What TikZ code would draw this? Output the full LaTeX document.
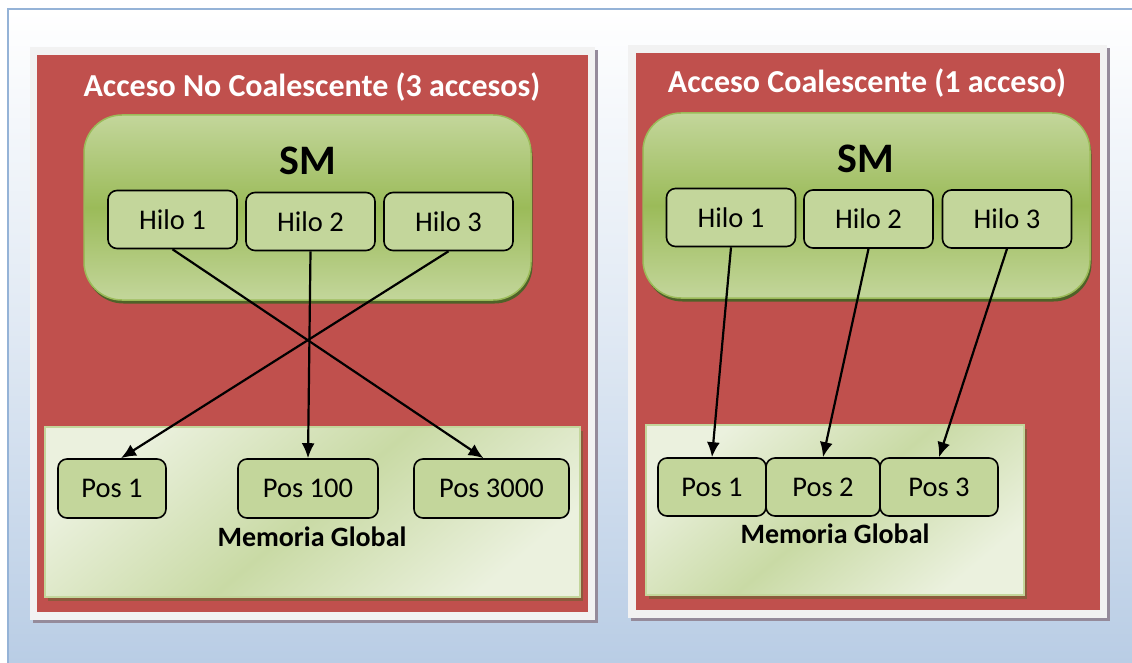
\documentclass[tikz,border=0pt]{standalone}
\usepackage{fontspec}
\setmainfont{Carlito}
\usetikzlibrary{arrows.meta,shadows}

\definecolor{rojo}{HTML}{C0504D}
\definecolor{verdeclaro}{HTML}{C3D69B}
\definecolor{verde}{HTML}{9BBB59}
\definecolor{verdeosc}{HTML}{4F6228}
\definecolor{verdepalido}{HTML}{EBF1DE}
\definecolor{marcogris}{HTML}{F2F2F2}
\definecolor{sombra}{HTML}{958B9B}
\definecolor{sombramem}{HTML}{8C5A3C}
\definecolor{azul}{HTML}{B9CDE5}
\definecolor{bordeazul}{HTML}{95B3D7}

\tikzset{
  caja/.style={anchor=north west, inner sep=0pt, outer sep=0pt},
  marco/.style={caja, fill=marcogris,
    drop shadow={shadow xshift=3pt, shadow yshift=-3pt, fill=sombra, opacity=1}},
  fondo/.style={caja, fill=rojo},
  sm/.style={caja, rounded corners=38pt, draw=verde, line width=1.5pt,
    top color=verdeclaro, bottom color=verdeclaro, middle color=verde,
    drop shadow={shadow xshift=1.5pt, shadow yshift=-3.5pt, fill=verdeosc, opacity=1}},
  memoria/.style={caja, draw=verdeclaro, line width=1.5pt,
    top color=verdepalido, bottom color=verdepalido, middle color=verdeclaro!85!verdepalido,
    shading angle=40,
    drop shadow={shadow xshift=3pt, shadow yshift=-4pt, fill=sombramem, opacity=1}},
  hilo/.style={fill=verdeclaro, draw=black, line width=1.6pt, rounded corners=9pt,
    minimum width=129pt, minimum height=58pt, inner sep=0pt,
    font=\fontsize{28.5}{30}\selectfont},
  posicion/.style={hilo, minimum height=59pt},
  titulo/.style={anchor=base, text=white, font=\fontsize{32}{34}\selectfont\bfseries},
  smtexto/.style={anchor=base, font=\fontsize{42}{44}\selectfont\bfseries},
  memtexto/.style={anchor=base, font=\fontsize{28}{30}\selectfont\bfseries},
  flecha/.style={-{Latex[length=15pt,width=13pt]}, line width=2.2pt}
}

\begin{document}
\begin{tikzpicture}[x=1pt,y=-1pt]
  \useasboundingbox (0,0) rectangle (1132,663);
  % fondo de la hoja
  \fill[white] (0,0) rectangle (1132,663);
  \shade[top color=white, bottom color=azul, middle color=azul!45!white]
    (8,9) rectangle (1132,663);
  \draw[bordeazul, line width=2pt] (8,663) -- (8,9) -- (1132,9);

  % acceso no coalescente
  \node[marco, minimum width=565pt, minimum height=573pt] (marcoA) at (30,47) {};
  \node[fondo, minimum width=551pt, minimum height=557pt] (rojoA) at (37,55) {};
  \node[titulo] (tituloA) at (312,97) {Acceso No Coalescente (3 accesos)};
  \node[sm, minimum width=447pt, minimum height=185pt] (smA) at (84,115) {};
  \node[smtexto] (smtA) at (308,175) {SM};
  \node[hilo] (hA1) at (172.5,219.5) {Hilo 1};
  \node[hilo] (hA2) at (310.5,221.5) {Hilo 2};
  \node[hilo] (hA3) at (448.5,221.5) {Hilo 3};
  \node[memoria, minimum width=535pt, minimum height=170pt] (memA) at (45,427) {};
  \node[posicion, minimum width=108pt] (pA1) at (112,488.5) {Pos 1};
  \node[posicion, minimum width=140pt] (pA2) at (308,488.5) {Pos 100};
  \node[posicion, minimum width=155pt] (pA3) at (491.5,488.5) {Pos 3000};
  \node[memtexto] (mgA) at (312,546) {Memoria Global};

  % acceso coalescente
  \node[marco, minimum width=479pt, minimum height=573pt] (marcoB) at (628,45) {};
  \node[fondo, minimum width=464pt, minimum height=557pt] (rojoB) at (636,53) {};
  \node[titulo] (tituloB) at (867,93) {Acceso Coalescente (1 acceso)};
  \node[sm, minimum width=447pt, minimum height=185pt] (smB) at (643,113) {};
  \node[smtexto] (smtB) at (866,173) {SM};
  \node[hilo] (hB1) at (731,217.5) {Hilo 1};
  \node[hilo] (hB2) at (868.5,219) {Hilo 2};
  \node[hilo] (hB3) at (1007,219) {Hilo 3};
  \node[memoria, minimum width=378pt, minimum height=170pt] (memB) at (646,425) {};
  \node[posicion, minimum width=108pt, minimum height=58pt] (pB1) at (712,487) {Pos 1};
  \node[posicion, minimum width=114pt, minimum height=58pt] (pB2) at (823,487) {Pos 2};
  \node[posicion, minimum width=118pt, minimum height=58pt] (pB3) at (939,487) {Pos 3};
  \node[memtexto] (mgB) at (835,543) {Memoria Global};

  \begin{scope}[flecha]
    \draw (hA1.south) to ([xshift=-8pt]pA3.north);
    \draw (hA2.south) to (pA2.north);
    \draw (hA3.south) to ([xshift=9pt]pA1.north);
    \draw (hB1.south) to (pB1.north);
    \draw (hB2.south) to (pB2.north);
    \draw (hB3.south) to (pB3.north);
  \end{scope}
\end{tikzpicture}
\end{document}
